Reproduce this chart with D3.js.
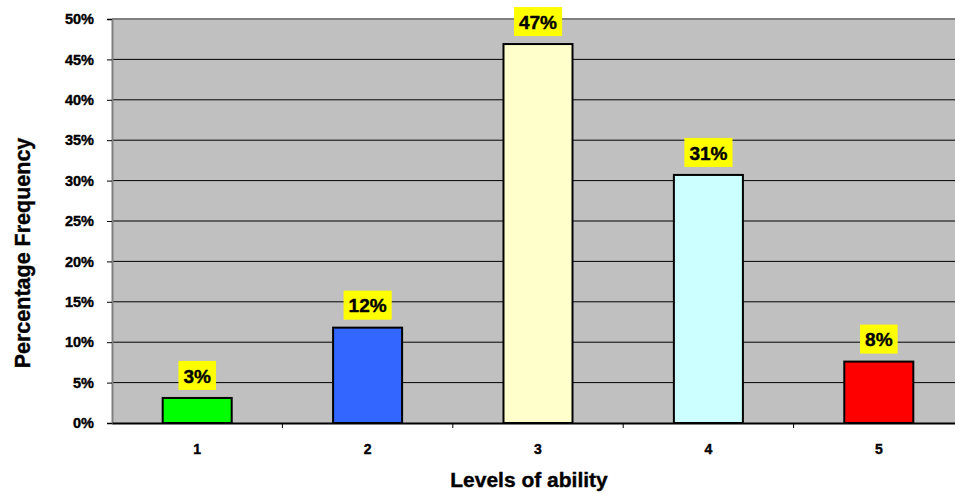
<!DOCTYPE html>
<html lang="en">
<head>
  <meta charset="UTF-8">
  <title>Levels of ability</title>
  <script src="https://d3js.org/d3.v7.min.js"></script>
  <style>
    body { margin: 0; background: #fff; }
    svg { display: block; font-family: "Liberation Sans", Arial, sans-serif; font-weight: bold; }
    .heavy { stroke: #000; stroke-width: 0.4px; }
  </style>
</head>
<body>
  <div id="chart"></div>
  <script>
    // data
    const levels = ["1", "2", "3", "4", "5"];
    const percents = [3.1, 11.8, 46.9, 30.7, 7.6];
    const labels = ["3%", "12%", "47%", "31%", "8%"];
    const barColors = ["#00ff00", "#3366ff", "#ffffcc", "#ccffff", "#ff0000"];
    const yTicks = [0, 5, 10, 15, 20, 25, 30, 35, 40, 45, 50];

    const W = 955, H = 493;
    const margin = { top: 19, right: -9, bottom: 70, left: 112 };
    const width = W - margin.left - margin.right;
    const height = H - margin.top - margin.bottom;

    const svg = d3.select("#chart").append("svg")
      .attr("width", W)
      .attr("height", H);
    const g = svg.append("g").attr("transform", `translate(${margin.left},${margin.top})`);

    const x = d3.scaleBand().domain(levels).range([0, width]).padding(0);
    const y = d3.scaleLinear().domain([0, 50]).range([height, 0]);
    const barW = x.bandwidth() * 0.405;

    // plot background
    g.append("rect")
      .attr("x", 0).attr("y", 0)
      .attr("width", width).attr("height", height)
      .attr("fill", "#c0c0c0");

    // gridlines
    g.selectAll(".grid")
      .data(yTicks.filter(d => d > 0 && d < 50))
      .enter().append("line")
      .attr("x1", 0).attr("x2", width)
      .attr("y1", d => y(d)).attr("y2", d => y(d))
      .attr("stroke", "#000").attr("stroke-width", 1);

    // top border
    g.append("line")
      .attr("x1", 0).attr("x2", width)
      .attr("y1", 0).attr("y2", 0)
      .attr("stroke", "#808080").attr("stroke-width", 2);

    // bars
    g.selectAll(".bar")
      .data(percents)
      .enter().append("rect")
      .attr("x", (d, i) => x(levels[i]) + (x.bandwidth() - barW) / 2)
      .attr("y", d => y(d))
      .attr("width", barW)
      .attr("height", d => height - y(d))
      .attr("fill", (d, i) => barColors[i])
      .attr("stroke", "#000")
      .attr("stroke-width", 2);

    // data labels with yellow boxes
    const lab = g.selectAll(".lab")
      .data(percents)
      .enter().append("g")
      .attr("transform", (d, i) => `translate(${x(levels[i]) + x.bandwidth() / 2},${y(d) - 22})`);
    lab.append("text")
      .attr("class", "heavy")
      .attr("text-anchor", "middle")
      .attr("dy", "0.36em")
      .attr("font-size", "19px")
      .attr("fill", "#000")
      .text((d, i) => labels[i]);
    lab.each(function () {
      const t = d3.select(this).select("text");
      const bb = t.node().getBBox();
      d3.select(this).insert("rect", "text")
        .attr("x", bb.x - 5).attr("y", -15)
        .attr("width", bb.width + 10).attr("height", 29)
        .attr("fill", "#ffff00");
    });

    // y axis
    const yAxis = g.append("g")
      .call(d3.axisLeft(y).tickValues(yTicks).tickSize(5).tickFormat(d => d + "%"));
    yAxis.select(".domain").attr("stroke", "#808080").attr("stroke-width", 2);
    yAxis.selectAll(".tick line").attr("stroke", "#000");
    yAxis.selectAll(".tick text")
      .attr("class", "heavy")
      .attr("x", -18)
      .attr("font-size", "14.5px")
      .attr("font-family", "'Liberation Sans', Arial, sans-serif")
      .attr("font-weight", "bold")
      .attr("fill", "#000");

    // x axis
    const xAxis = g.append("g")
      .attr("transform", `translate(0,${height})`)
      .call(d3.axisBottom(x).tickSize(0).tickPadding(21));
    xAxis.select(".domain").attr("stroke", "#000").attr("stroke-width", 2);
    xAxis.selectAll(".tick text")
      .attr("class", "heavy")
      .attr("font-size", "14px")
      .attr("font-family", "'Liberation Sans', Arial, sans-serif")
      .attr("font-weight", "bold")
      .attr("fill", "#000");
    // category separator ticks
    g.selectAll(".sep")
      .data(levels.slice(1))
      .enter().append("line")
      .attr("x1", d => x(d)).attr("x2", d => x(d))
      .attr("y1", height).attr("y2", height + 5)
      .attr("stroke", "#000");

    // axis titles
    svg.append("text")
      .attr("class", "heavy")
      .attr("x", 529)
      .attr("y", 487)
      .attr("text-anchor", "middle")
      .attr("font-size", "21px")
      .text("Levels of ability");
    svg.append("text")
      .attr("class", "heavy")
      .attr("transform", "translate(30,253) rotate(-90)")
      .attr("text-anchor", "middle")
      .attr("font-size", "21.5px")
      .text("Percentage Frequency");
  </script>
</body>
</html>
